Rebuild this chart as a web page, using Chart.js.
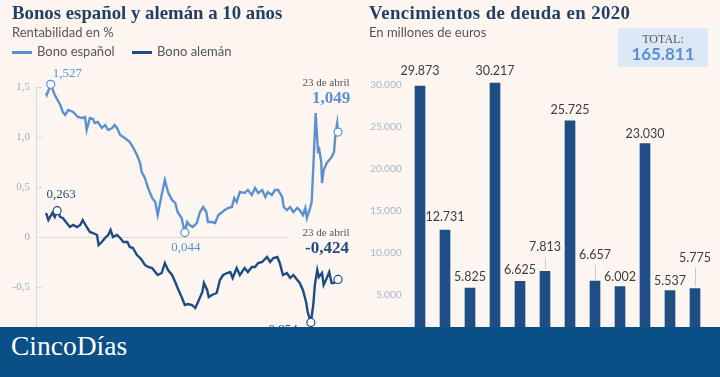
<!DOCTYPE html>
<html><head><meta charset="utf-8">
<script src="https://cdn.jsdelivr.net/npm/chart.js@4.4.1/dist/chart.umd.min.js"></script>
<style>
html,body{margin:0;padding:0;}
body{width:720px;height:377px;background:#fdf6f0;position:relative;overflow:hidden;font-family:Lato,sans-serif;}
.abs{position:absolute;white-space:nowrap;}
.title{font-family:"Liberation Serif",serif;font-weight:bold;font-size:18.8px;line-height:18px;color:#223f66;top:4px;}
.sub{font-size:13px;line-height:13px;color:#555;top:26px;}
.leg{font-size:13px;line-height:13px;color:#555;top:45px;}
.legline{position:absolute;height:3px;width:20px;top:51px;}
canvas{position:absolute;top:0;}
#total{position:absolute;left:618px;top:28px;width:90px;height:39px;background:#dde8f6;text-align:center;}
#total .t1{position:absolute;left:0;width:90px;top:5px;font-family:"Liberation Serif",serif;font-size:12px;line-height:12px;color:#555;}
#total .t2{position:absolute;left:0;width:90px;top:17px;font-weight:bold;font-size:17px;line-height:17px;color:#5b8fce;}
#banner{position:absolute;left:0;top:327px;width:720px;height:50px;background:#0b4f87;}
#banner span{position:absolute;left:11px;top:5px;font-family:"Liberation Serif",serif;font-size:27.5px;line-height:27px;color:#fff;}
</style>
</head><body>
<canvas id="c1" width="360" height="377" style="left:0"></canvas>
<canvas id="c2" width="360" height="377" style="left:360px"></canvas>

<div class="abs title" style="left:12px">Bonos español y alemán a 10 años</div>
<div class="abs sub" style="left:12px">Rentabilidad en %</div>
<div class="legline" style="left:12px;background:#5b91d0"></div>
<div class="abs leg" style="left:37px">Bono español</div>
<div class="legline" style="left:132px;background:#1e4b82"></div>
<div class="abs leg" style="left:157px">Bono alemán</div>

<div class="abs title" style="left:369px;letter-spacing:0.4px">Vencimientos de deuda en 2020</div>
<div class="abs sub" style="left:369px">En millones de euros</div>
<div id="total"><div class="t1">TOTAL:</div><div class="t2" id="totalVal"></div></div>

<div id="banner"><span>CincoDías</span></div>

<script>
// ---------- DATA ----------
// Days since 23 April 2019
const esDays = [0,1,6,11,18,21,24,28,34,40,45,49,51,55,59,61,65,70,74,78,83,86,89,93,97,102,105,109,114,118,120,124,128,133,137,140,145,149,153,158,162,165,170,174,177,180,184,189,193,197,201,203,208,212,216,221,224,228,233,236,239,243,249,253,258,262,266,271,275,278,283,287,291,296,298,302,306,310,315,318,322,325,327,331,333,335,338,341,342,345,346,348,352,355,358,361,363,365,366];
const esVals = [1.44,1.42,1.527,1.42,1.32,1.25,1.22,1.27,1.25,1.20,1.19,1.20,1.07,1.19,1.18,1.14,1.15,1.09,1.12,1.07,1.09,1.12,1.09,1.02,1.00,0.97,0.95,0.90,0.82,0.74,0.65,0.59,0.49,0.39,0.35,0.22,0.42,0.57,0.45,0.37,0.34,0.25,0.19,0.044,0.15,0.12,0.10,0.14,0.25,0.30,0.25,0.15,0.15,0.14,0.22,0.25,0.27,0.29,0.30,0.39,0.35,0.45,0.44,0.47,0.42,0.49,0.44,0.47,0.40,0.45,0.42,0.47,0.47,0.40,0.30,0.27,0.30,0.25,0.29,0.27,0.22,0.29,0.19,0.29,0.35,0.69,1.24,0.85,0.90,0.75,0.54,0.67,0.74,0.77,0.80,0.85,1.04,1.14,1.049];
const deDays = [0,1,3,8,11,14,18,21,26,30,34,39,43,46,51,55,59,64,66,70,74,78,81,84,89,93,97,102,105,109,114,118,120,124,128,133,137,140,145,149,153,158,162,165,170,174,178,183,187,190,196,198,202,204,208,214,218,222,227,231,234,239,243,249,253,258,262,266,271,277,281,285,290,293,297,302,306,310,315,318,322,326,328,332,335,337,340,342,346,348,352,355,358,361,365,366];
const deVals = [0.24,0.22,0.17,0.24,0.20,0.263,0.20,0.19,0.14,0.10,0.12,0.10,0.12,0.17,0.10,0.05,0.04,0.02,-0.08,-0.05,-0.01,0.02,0.07,0.00,0.02,-0.01,-0.05,-0.05,-0.10,-0.11,-0.18,-0.21,-0.23,-0.28,-0.30,-0.31,-0.35,-0.38,-0.36,-0.26,-0.33,-0.38,-0.45,-0.51,-0.60,-0.68,-0.67,-0.68,-0.71,-0.66,-0.55,-0.46,-0.53,-0.60,-0.58,-0.56,-0.43,-0.38,-0.36,-0.35,-0.41,-0.31,-0.38,-0.31,-0.35,-0.30,-0.30,-0.26,-0.25,-0.20,-0.25,-0.21,-0.20,-0.26,-0.38,-0.36,-0.41,-0.38,-0.43,-0.46,-0.53,-0.65,-0.75,-0.854,-0.68,-0.48,-0.33,-0.40,-0.36,-0.48,-0.41,-0.35,-0.46,-0.46,-0.43,-0.424];
const leftTicks = [1.5,1.0,0.5,0,-0.5,-1.0];
const endDateLabel = '23 de abril';

const months = ['Ene','Feb','Mar','Abr','May','Jun','Jul','Ago','Sep','Oct','Nov','Dic'];
const vencimientos = [29873,12731,5825,30217,6625,7813,25725,6657,6002,23030,5537,5775];
const rightTicks = [0,5000,10000,15000,20000,25000,30000];
const total = 165811;

// ---------- STYLE ----------
const ES = '#5b91d0', DE = '#1e4b82', BAR = '#1f4e85';
Chart.defaults.animation = false;
Chart.defaults.font.family = 'Lato, sans-serif';

const fmtComma = (v, d) => v.toFixed(d).replace('.', ',');
const fmtThousands = v => v.toLocaleString('de-DE');
document.getElementById('totalVal').textContent = fmtThousands(total);

const idxMax = a => a.indexOf(Math.max(...a));
const idxMin = a => a.indexOf(Math.min(...a));
const markers = [
  [idxMax(esVals), idxMin(esVals), esVals.length - 1],
  [idxMax(deVals), idxMin(deVals), deVals.length - 1]
];
const serif = '"Liberation Serif", serif';
const notes = [
  {ds:0, i:markers[0][0], text:fmtComma(esVals[markers[0][0]],3), dx:2, dy:-11, align:'left', font:'13px '+serif, color:ES},
  {ds:0, i:markers[0][1], text:fmtComma(esVals[markers[0][1]],3), dx:1, dy:15, align:'center', font:'13px '+serif, color:ES},
  {ds:0, i:markers[0][2], text:fmtComma(esVals[markers[0][2]],3), dx:-7, dy:-33, align:'center', font:'bold 17px '+serif, color:ES},
  {ds:0, i:markers[0][2], text:endDateLabel, dx:-12, dy:-49, align:'center', font:'11px '+serif, color:'#555'},
  {ds:1, i:markers[1][0], text:fmtComma(deVals[markers[1][0]],3), dx:4, dy:-16, align:'center', font:'13px '+serif, color:DE},
  {ds:1, i:markers[1][1], text:fmtComma(deVals[markers[1][1]],3), dx:-30, dy:7, align:'center', font:'13px '+serif, color:DE},
  {ds:1, i:markers[1][2], text:fmtComma(deVals[markers[1][2]],3), dx:-11, dy:-31, align:'center', font:'bold 17px '+serif, color:DE},
  {ds:1, i:markers[1][2], text:endDateLabel, dx:-12, dy:-46, align:'center', font:'11px '+serif, color:'#555'}
];
const zeroLineEndDay = 306;

const leftDecor = {
  id:'leftDecor',
  beforeDatasetsDraw(chart){
    const {ctx, chartArea, scales:{x,y}} = chart;
    ctx.save();
    ctx.strokeStyle = '#d8d8d8'; ctx.lineWidth = 1;
    const top = y.getPixelForValue(leftTicks[0]);
    ctx.beginPath(); ctx.moveTo(chartArea.left+0.5, top); ctx.lineTo(chartArea.left+0.5, chartArea.bottom); ctx.stroke();
    leftTicks.forEach(v=>{
      const py = Math.round(y.getPixelForValue(v))+0.5;
      ctx.beginPath(); ctx.moveTo(chartArea.left, py); ctx.lineTo(chartArea.left+6, py); ctx.stroke();
    });
    const z = Math.round(y.getPixelForValue(0))+0.5;
    ctx.strokeStyle = '#dcdcdc';
    ctx.beginPath(); ctx.moveTo(chartArea.left, z); ctx.lineTo(x.getPixelForValue(zeroLineEndDay), z); ctx.stroke();
    ctx.restore();
  },
  afterDatasetsDraw(chart){
    const {ctx} = chart;
    ctx.save();
    ctx.textBaseline = 'middle';
    notes.forEach(n=>{
      const el = chart.getDatasetMeta(n.ds).data[n.i];
      ctx.font = n.font; ctx.fillStyle = n.color; ctx.textAlign = n.align;
      ctx.fillText(n.text, el.x + n.dx, el.y + n.dy);
    });
    ctx.restore();
  }
};

new Chart(document.getElementById('c1'), {
  type:'line',
  data:{datasets:[
    {label:'Bono español', data:esDays.map((d,i)=>({x:d,y:esVals[i]})), borderColor:ES, borderWidth:2.4, clip:false,
     pointRadius:c=>markers[0].includes(c.dataIndex)?4:0, pointBackgroundColor:'#fff', pointBorderColor:ES, pointBorderWidth:1.2, tension:0},
    {label:'Bono alemán', data:deDays.map((d,i)=>({x:d,y:deVals[i]})), borderColor:DE, borderWidth:2.4, clip:false,
     pointRadius:c=>markers[1].includes(c.dataIndex)?4:0, pointBackgroundColor:'#fff', pointBorderColor:DE, pointBorderWidth:1.2, tension:0}
  ]},
  options:{
    responsive:false, events:[],
    layout:{padding:{left:0,right:22,top:67,bottom:30}},
    plugins:{legend:{display:false}, tooltip:{enabled:false}},
    scales:{
      x:{type:'linear', min:-12.5, max:366, display:false},
      y:{min:-1.1, max:1.7,
         afterBuildTicks:s=>{s.ticks = leftTicks.map(v=>({value:v}));},
         afterFit:s=>{s.width = 36;},
         grid:{display:false, drawTicks:false}, border:{display:false},
         ticks:{padding:6, color:'#a3aab8', font:{family:serif, size:11},
                callback:v=> v===0 ? '0' : fmtComma(v,1)}}
    }
  },
  plugins:[leftDecor]
});

const labelOffsets = [15,13,11,12,11,24,11,26,10,10,10,31];
const barLabels = {
  id:'barLabels',
  afterDatasetsDraw(chart){
    const {ctx} = chart;
    const meta = chart.getDatasetMeta(0);
    ctx.save();
    ctx.font = '12.5px Lato, sans-serif'; ctx.fillStyle = '#3d3d3d';
    ctx.textAlign = 'center'; ctx.textBaseline = 'middle';
    meta.data.forEach((b,i)=>{
      const off = labelOffsets[i];
      ctx.fillText(fmtThousands(vencimientos[i]), b.x, b.y - off);
      if (off > 20){
        ctx.strokeStyle = '#c9c9c9'; ctx.lineWidth = 1;
        ctx.beginPath(); ctx.moveTo(Math.round(b.x)+0.5, b.y - off + 10); ctx.lineTo(Math.round(b.x)+0.5, b.y - 2); ctx.stroke();
      }
    });
    ctx.restore();
  }
};

new Chart(document.getElementById('c2'), {
  type:'bar',
  data:{labels:months, datasets:[{label:'Vencimientos', data:vencimientos, backgroundColor:BAR, barThickness:10}]},
  options:{
    responsive:false, events:[],
    layout:{padding:{left:0,right:12.5,top:43,bottom:40}},
    plugins:{legend:{display:false}, tooltip:{enabled:false}},
    scales:{
      x:{display:false},
      y:{min:0, max:35000,
         afterBuildTicks:s=>{s.ticks = rightTicks.map(v=>({value:v}));},
         afterFit:s=>{s.width = 47.5;},
         grid:{display:false, drawTicks:false}, border:{display:false},
         ticks:{padding:6, color:'#a9b5c9', font:{size:10}, callback:v=>fmtThousands(v)}}
    }
  },
  plugins:[barLabels]
});
</script>
</body></html>
